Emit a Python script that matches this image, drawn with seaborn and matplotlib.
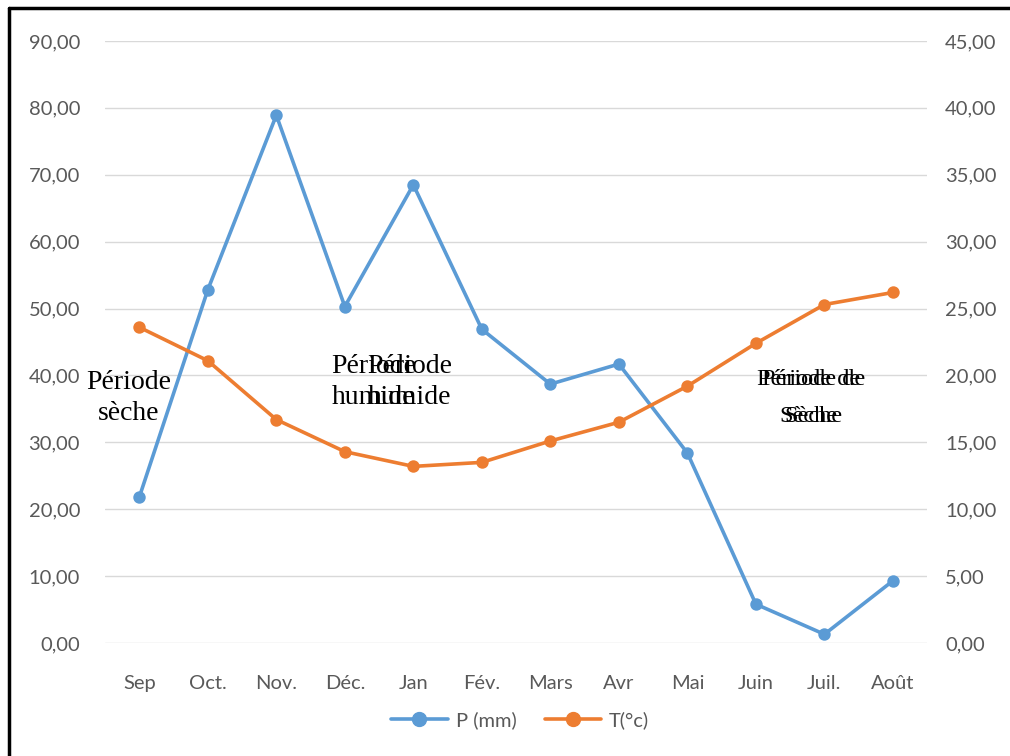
import matplotlib
matplotlib.use("Agg")
import matplotlib.pyplot as plt
from matplotlib.lines import Line2D
import seaborn as sns
import pandas as pd

mois = ["Sep", "Oct.", "Nov.", "Déc.", "Jan", "Fév.", "Mars", "Avr", "Mai", "Juin", "Juil.", "Août"]
precip_mm = [21.8, 52.8, 78.9, 50.3, 68.5, 46.9, 38.7, 41.7, 28.4, 5.8, 1.3, 9.3]
temp_c = [23.6, 21.1, 16.7, 14.3, 13.2, 13.5, 15.1, 16.5, 19.2, 22.4, 25.3, 26.2]
left_ticks = [0, 10, 20, 30, 40, 50, 60, 70, 80, 90]
right_ticks = [0, 5, 10, 15, 20, 25, 30, 35, 40, 45]

df = pd.DataFrame({"mois": mois, "P": precip_mm, "T": temp_c})

sns.set_theme(style="white")
plt.rcParams["font.family"] = ["Lato", "DejaVu Sans"]

BLUE = "#5B9BD5"
ORANGE = "#ED7D31"
GREY = "#595959"
GRID = "#D9D9D9"

fig = plt.figure(figsize=(10.10, 7.56), dpi=100)
ax = fig.add_axes([0.104, 0.1495, 0.814, 0.7963])
ax2 = ax.twinx()

sns.pointplot(data=df, x="mois", y="P", color=BLUE, ax=ax, markers="o",
              markersize=7, linewidth=2.6, errorbar=None)
sns.pointplot(data=df, x="mois", y="T", color=ORANGE, ax=ax2, markers="o",
              markersize=7, linewidth=2.6, errorbar=None)

ax.set_ylim(0, 90)
ax2.set_ylim(0, 45)
ax.set_xlim(-0.5, 11.5)
ax.set_yticks(left_ticks)
ax2.set_yticks(right_ticks)
ax.set_yticklabels([f"{v:.2f}".replace(".", ",") for v in left_ticks])
ax2.set_yticklabels([f"{v:.2f}".replace(".", ",") for v in right_ticks])

for a in (ax, ax2):
    a.set_xlabel("")
    a.set_ylabel("")
    for s in a.spines.values():
        s.set_visible(False)
    a.tick_params(length=0, colors=GREY, labelsize=14.5)
ax.tick_params(axis="y", pad=18)
ax2.tick_params(axis="y", pad=13)
ax.tick_params(axis="x", pad=23)

ax.yaxis.grid(True, color=GRID, linewidth=1)
ax.set_axisbelow(True)
ax2.set_zorder(ax.get_zorder() + 1)
ax2.patch.set_visible(False)

# period annotations
serif = dict(family="Liberation Serif", color="black", ha="center", va="center")
ax.text(-0.16, 36.6, "Période\nsèche", fontsize=20, linespacing=1.35, **serif, zorder=5)
ax.text(3.42, 39.0, "Période\nhumide", fontsize=20, linespacing=1.35, **serif, zorder=5)
ax.text(3.94, 39.0, "Période\nhumide", fontsize=20, linespacing=1.35, **serif, zorder=5)
ax.text(9.77, 36.6, "Période de\nSèche", fontsize=17.5, linespacing=2.0, **serif, zorder=5)
ax.text(9.84, 36.6, "Période de\nSèche", fontsize=17.5, linespacing=2.0, **serif, zorder=5)

handles = [
    Line2D([], [], color=BLUE, lw=2.6, marker="o", markersize=10),
    Line2D([], [], color=ORANGE, lw=2.6, marker="o", markersize=10),
]
fig.legend(handles, ["P (mm)", "T(°c)"], loc="center", bbox_to_anchor=(0.515, 0.047),
           ncol=2, frameon=False, fontsize=14.5, labelcolor=GREY, handlelength=2.8,
           columnspacing=1.4, handletextpad=0.4)

# frame on the left and top edges
fig.add_artist(Line2D([0.009, 0.009], [0, 0.989], color="black", lw=2.5,
                      transform=fig.transFigure))
fig.add_artist(Line2D([0.009, 1.0], [0.989, 0.989], color="black", lw=2.5,
                      transform=fig.transFigure))

fig.savefig("out.png", dpi=100, facecolor="white")
